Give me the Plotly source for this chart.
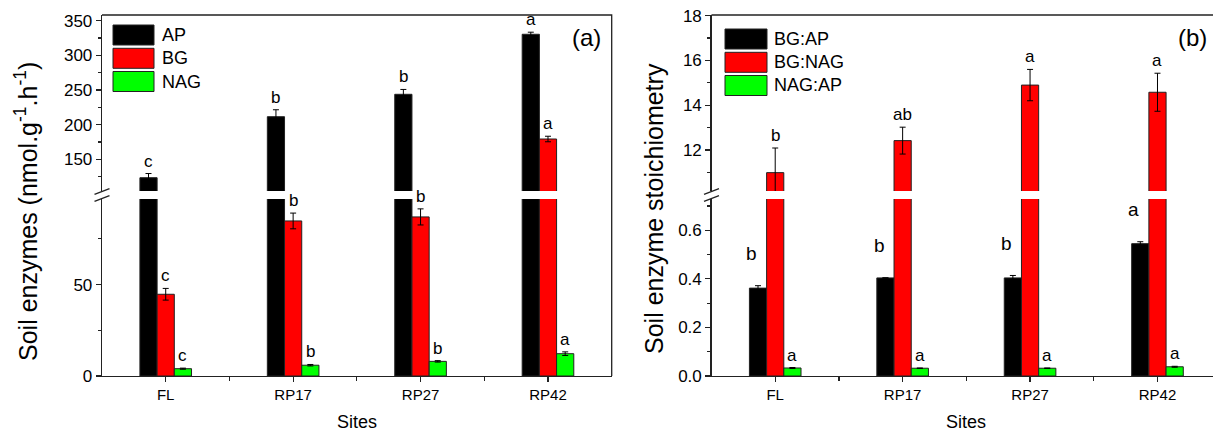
import plotly.graph_objects as go

W, H = 1213, 433

# ---------------- data ----------------
sites = ["FL", "RP17", "RP27", "RP42"]

# panel (a) soil enzymes (nmol g-1 h-1)
enz_names = ["AP", "BG", "NAG"]
enz_AP = [123.5, 211.5, 243.8, 330.4]
enz_AP_err = [6.0, 10.0, 7.0, 3.0]
enz_BG = [44.7, 84.8, 87.0, 179.3]
enz_BG_err = [3.2, 4.3, 4.4, 4.0]
enz_NAG = [4.0, 5.9, 8.0, 12.2]
enz_NAG_err = [0.3, 0.4, 0.4, 1.0]
enz_AP_letters = ["c", "b", "b", "a"]
enz_BG_letters = ["c", "b", "b", "a"]
enz_NAG_letters = ["c", "b", "b", "a"]

# panel (b) soil enzyme stoichiometry
st_names = ["BG:AP", "BG:NAG", "NAG:AP"]
st_BGAP = [0.362, 0.404, 0.404, 0.545]
st_BGAP_err = [0.010, 0.0, 0.010, 0.008]
st_BGNAG = [10.99, 12.42, 14.90, 14.58]
st_BGNAG_err = [1.10, 0.60, 0.70, 0.85]
st_NAGAP = [0.033, 0.032, 0.032, 0.038]
st_NAGAP_err = [0.002, 0.001, 0.001, 0.002]
st_BGAP_letters = ["b", "b", "b", "a"]
st_BGNAG_letters = ["b", "ab", "a", "a"]
st_NAGAP_letters = ["a", "a", "a", "a"]

colors = ["#000000", "#ff0000", "#00ff00"]

# ---------------- geometry helpers ----------------
FONT = "Liberation Sans, Arial, sans-serif"
LC = "#222222"


def px(x):
    return x / W


def py(y):
    return 1 - y / H


A_L, A_R = 102, 611.7
B_L, B_R = 711.5, 1213
TOP, BOT = 15, 376
BRK_HI, BRK_LO = 191, 199  # pixel rows of break (upper domain bottom, lower domain top)

ranges = {
    "a_low": [0, 96.8],
    "a_up": [104.3, 358.2],
    "b_low": [0, 0.729],
    "b_up": [10.17, 18.03],
}

bar_w = 0.135
offsets = [-bar_w, 0.0, bar_w]

fig = go.Figure()
xs = [1, 2, 3, 4]

panels = [
    ("x", "y", "y2", "a_low", enz_names,
     [enz_AP, enz_BG, enz_NAG], [enz_AP_err, enz_BG_err, enz_NAG_err],
     [enz_AP_letters, enz_BG_letters, enz_NAG_letters]),
    ("x2", "y3", "y4", "b_low", st_names,
     [st_BGAP, st_BGNAG, st_NAGAP], [st_BGAP_err, st_BGNAG_err, st_NAGAP_err],
     [st_BGAP_letters, st_BGNAG_letters, st_NAGAP_letters]),
]

annotations = []
for xa, ylo, yhi, lowkey, names, vals, errs, lets in panels:
    low_max = ranges[lowkey][1]
    for k in range(3):
        for ya in (ylo, yhi):
            fig.add_trace(go.Bar(
                x=xs, y=vals[k], xaxis=xa, yaxis=ya, name=names[k],
                marker=dict(color=colors[k], line=dict(color=LC, width=1)),
                error_y=dict(type="data", array=errs[k], color="#000000",
                             thickness=1, width=3),
                showlegend=False, hoverinfo="skip",
            ))
        for i in range(4):
            top = vals[k][i] + errs[k][i]
            yref = ylo if top < low_max else yhi
            xpos = xs[i] + offsets[k]
            size = 17
            ybase = top
            yshift = 1
            if xa == "x2" and k == 0:
                # BG:AP letters sit up-left of the black bar
                xpos = xs[i] + offsets[k] - 0.05
                ybase = top + 0.08
                yshift = 0
                size = 19
            annotations.append(dict(
                x=xpos, y=ybase, xref=xa, yref=yref, text=lets[k][i],
                showarrow=False, yanchor="bottom", xanchor="center", yshift=yshift,
                font=dict(size=size, color="#000000", family=FONT)))

axis_common = dict(showline=True, linecolor=LC, linewidth=1.3, ticks="outside",
                   tickcolor=LC, tickwidth=1.2, showgrid=False, zeroline=False,
                   fixedrange=True, automargin=False)
ytick_font = dict(size=17, color="#000000", family=FONT)
xtick_font = dict(size=15, color="#000000", family=FONT)

fig.update_layout(
    width=W, height=H, margin=dict(l=0, r=0, t=0, b=0, pad=0, autoexpand=False),
    paper_bgcolor="white", plot_bgcolor="white",
    barmode="group", bargap=1 - 3 * bar_w, bargroupgap=0,
    showlegend=False,
    xaxis=dict(domain=[px(A_L), px(A_R)], range=[0.5, 4.5], anchor="y",
               tickvals=xs, ticktext=sites, ticklen=5, tickfont=xtick_font,
               minor=dict(tickvals=[1.5, 2.5, 3.5], ticks="outside", ticklen=4,
                          tickcolor=LC), **axis_common),
    yaxis=dict(domain=[py(BOT), py(BRK_LO)], range=ranges["a_low"], anchor="x",
               tick0=0, dtick=50, ticklen=5, tickfont=ytick_font,
               minor=dict(dtick=25, ticks="outside", ticklen=3, tickcolor=LC),
               **axis_common),
    yaxis2=dict(domain=[py(BRK_HI), py(TOP)], range=ranges["a_up"], anchor="x",
                tick0=0, dtick=50, ticklen=5, tickfont=ytick_font,
                minor=dict(dtick=25, ticks="outside", ticklen=3, tickcolor=LC),
                **axis_common),
    xaxis2=dict(domain=[px(B_L), px(B_R)],
                range=[0.5, 0.5 + (B_R - B_L) / ((A_R - A_L) / 4)], anchor="y3",
                tickvals=xs, ticktext=sites, ticklen=5, tickfont=xtick_font,
                minor=dict(tickvals=[1.5, 2.5, 3.5], ticks="outside", ticklen=4,
                           tickcolor=LC), **axis_common),
    yaxis3=dict(domain=[py(BOT), py(BRK_LO)], range=ranges["b_low"], anchor="x2",
                tick0=0, dtick=0.2, tickformat=".1f", ticklen=5, tickfont=ytick_font,
                minor=dict(dtick=0.1, ticks="outside", ticklen=3, tickcolor=LC),
                **axis_common),
    yaxis4=dict(domain=[py(BRK_HI), py(TOP)], range=ranges["b_up"], anchor="x2",
                tick0=0, dtick=2, ticklen=5, tickfont=ytick_font,
                minor=dict(dtick=1, ticks="outside", ticklen=3, tickcolor=LC),
                **axis_common),
)

shapes = []
# frame: top and right edges
shapes.append(dict(type="path", xref="paper", yref="paper",
                   path=f"M {px(A_L)},{py(TOP)} L {px(A_R)},{py(TOP)} L {px(A_R)},{py(BOT)}",
                   line=dict(color=LC, width=1.3), layer="above"))
shapes.append(dict(type="path", xref="paper", yref="paper",
                   path=f"M {px(B_L)},{py(TOP)} L {px(B_R)},{py(TOP)}",
                   line=dict(color=LC, width=1.3), layer="above"))
# break marks "//" on left axes
for xl in (A_L, B_L):
    for yc in (BRK_HI + 0.5, BRK_LO - 0.5):
        shapes.append(dict(type="line", xref="paper", yref="paper",
                           x0=px(xl - 7.5), x1=px(xl + 7.5),
                           y0=py(yc + 2.8), y1=py(yc - 2.8),
                           line=dict(color=LC, width=1.3)))

# custom legends
legends = [
    (113, 154, 160, [25, 48.3, 71.5], enz_names),
    (725, 767, 772, [29, 52.3, 75.5], st_names),
]
for x0, x1, xt, tops, names in legends:
    for k, t in enumerate(tops):
        shapes.append(dict(type="rect", xref="paper", yref="paper",
                           x0=px(x0), x1=px(x1), y0=py(t + 20), y1=py(t),
                           fillcolor=colors[k], line=dict(color=LC, width=1)))
        annotations.append(dict(x=px(xt), y=py(t + 10), xref="paper", yref="paper",
                                text=names[k], showarrow=False, xanchor="left",
                                yanchor="middle",
                                font=dict(size=18, color="#000000", family=FONT)))


def label(x, y, text, size, angle=0):
    annotations.append(dict(x=px(x), y=py(y), xref="paper", yref="paper", text=text,
                            showarrow=False, xanchor="center", yanchor="middle",
                            textangle=angle,
                            font=dict(size=size, color="#000000", family=FONT)))


label(586.5, 37, "(a)", 24)
label(1192.5, 37, "(b)", 24)
label(26, 212, "Soil enzymes (nmol.g<sup>-1</sup>.h<sup>-1</sup>)", 25, -90)
label(654, 209, "Soil enzyme stoichiometry", 25, -90)
label(357, 422, "Sites", 18)
label(966, 422, "Sites", 18)

fig.update_layout(shapes=shapes, annotations=annotations)
fig.write_html("out.html", config={"displayModeBar": False, "staticPlot": True},
               post_script="document.body.style.margin='0';"
                           "document.body.style.overflow='hidden';")
